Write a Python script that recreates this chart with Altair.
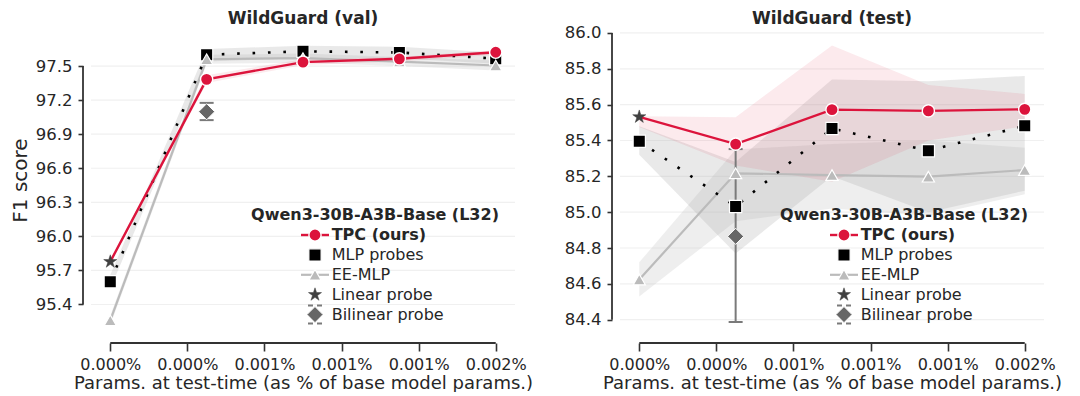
import math
import altair as alt
import pandas as pd

# ---------------- data ----------------
X_POS = [0.0, 0.000375, 0.00075, 0.001125, 0.0015]
X_TICKS = [0.0, 0.0003, 0.0006, 0.0009, 0.0012, 0.0015]
X_TICK_LABELS = ["0.000%", "0.000%", "0.001%", "0.001%", "0.001%", "0.002%"]
X_TITLE = "Params. at test-time (as % of base model params.)"
Y_TITLE = "F1 score"

LEGEND_TITLE = "Qwen3-30B-A3B-Base (L32)"
LEGEND_LABELS = ["TPC (ours)", "MLP probes", "EE-MLP", "Linear probe", "Bilinear probe"]

# WildGuard (val)
VAL_Y_TICKS = [95.4, 95.7, 96.0, 96.3, 96.6, 96.9, 97.2, 97.5]
VAL_Y_DOMAIN = [95.184, 97.809]
VAL_LINEAR = 95.777
VAL_TPC = [97.383, 97.535, 97.564, 97.622]
VAL_TPC_LO = [95.76, 97.35, 97.51, 97.54, 97.60]
VAL_TPC_HI = [95.79, 97.42, 97.56, 97.58, 97.64]
VAL_MLP = [95.60, 97.60, 97.63, 97.62, 97.565]
VAL_MLP_LO = [95.54, 97.54, 97.57, 97.57, 97.52]
VAL_MLP_HI = [95.66, 97.65, 97.68, 97.67, 97.62]
VAL_EE = [95.26, 97.56, 97.57, 97.54, 97.505]
VAL_EE_LO = [95.22, 97.52, 97.53, 97.50, 97.46]
VAL_EE_HI = [95.30, 97.60, 97.61, 97.58, 97.55]
VAL_BILINEAR = 97.098
VAL_BILINEAR_ERR = [97.024, 97.176]

# WildGuard (test)
TEST_Y_TICKS = [84.4, 84.6, 84.8, 85.0, 85.2, 85.4, 85.6, 85.8, 86.0]
TEST_Y_DOMAIN = [84.348, 86.011]
TEST_LINEAR = 85.532
TEST_TPC = [85.380, 85.572, 85.565, 85.574]
TEST_TPC_LO = [85.475, 85.26, 85.17, 85.40, 85.48]
TEST_TPC_HI = [85.535, 85.53, 85.93, 85.71, 85.66]
TEST_MLP = [85.396, 85.032, 85.467, 85.343, 85.482]
TEST_MLP_LO = [85.32, 84.77, 85.20, 85.00, 85.12]
TEST_MLP_HI = [85.48, 85.28, 85.74, 85.73, 85.76]
TEST_EE = [84.624, 85.217, 85.207, 85.198, 85.235]
TEST_EE_LO = [84.53, 84.95, 85.02, 84.98, 85.10]
TEST_EE_HI = [84.72, 85.35, 85.38, 85.40, 85.36]
TEST_BILINEAR = 84.865
TEST_BILINEAR_ERR = [84.387, 85.352]

# ---------------- style ----------------
FONT = "DejaVu Sans"
W, H = 424, 298
X_DOMAIN = [-0.000075, 0.001575]
RED = "#DC143C"
EE_GRAY = "#BBBBBB"
STAR_GRAY = "#404040"
DIAMOND_GRAY = "#666666"
ERR_GRAY = "#7A7A7A"
SPINE = "#333333"
TEXT = "#262626"
GRID = "#F0F0F0"

LEG_TITLE_X = 284
LEG_TITLE_Y = 184
LEG_ROW0 = 204
LEG_DY = 19.9
LEG_SYM_X = 224
LEG_LABEL_X = 240.7
LEG_HALF = 14


def star_path(n=5, inner=0.382):
    pts = []
    for k in range(2 * n):
        ang = math.radians(-90 + 180 * k / n)
        r = 1.0 if k % 2 == 0 else inner
        pts.append(f"{r * math.cos(ang):.4f},{r * math.sin(ang):.4f}")
    return "M" + " L".join(pts) + " Z"


STAR = star_path()


def one():
    return pd.DataFrame({"a": [0]})


def make_panel(title, y_title, y_ticks, y_domain, linear, tpc, tpc_lo, tpc_hi,
               mlp, mlp_lo, mlp_hi, ee, ee_lo, ee_hi, bil, bil_err):
    xs = alt.Scale(domain=X_DOMAIN, nice=False, zero=False)
    ys = alt.Scale(domain=y_domain, nice=False, zero=False)
    step = X_TICKS[1] - X_TICKS[0]
    label_expr = "[" + ",".join(f"'{l}'" for l in X_TICK_LABELS) + f"][round(datum.value / {step})]"
    x_axis = alt.Axis(values=X_TICKS, labelExpr=label_expr, offset=14, tickSize=8,
                      tickWidth=1.6, tickColor=SPINE, domain=False, grid=False,
                      labelFontSize=16, labelColor=TEXT, labelFont=FONT,
                      titleFontSize=18, titleFontWeight="normal", titleColor=TEXT,
                      titleFont=FONT, labelPadding=5, titlePadding=2,
                      labelFlush=False, labelOverlap=False)
    y_axis = alt.Axis(values=y_ticks, format=".1f", offset=8, tickSize=5, tickWidth=1.6,
                      tickColor=SPINE, domain=False, grid=False, labelFontSize=16.5,
                      labelColor=TEXT, labelFont=FONT, labelPadding=6,
                      titleFontSize=20, titleFontWeight="normal", titleColor=TEXT,
                      titleFont=FONT, titlePadding=5, labelOverlap=False)

    def X(f):
        return alt.X(f, scale=xs, axis=x_axis, title=X_TITLE)

    def Y(f):
        if y_title:
            return alt.Y(f, scale=ys, axis=y_axis, title=y_title)
        return alt.Y(f, scale=ys, axis=y_axis, title=None)

    df = pd.DataFrame({
        "x": X_POS,
        "tpc": [linear] + tpc, "tpc_lo": tpc_lo, "tpc_hi": tpc_hi,
        "mlp": mlp, "mlp_lo": mlp_lo, "mlp_hi": mlp_hi,
        "ee": ee, "ee_lo": ee_lo, "ee_hi": ee_hi,
    })
    circ = pd.DataFrame({"x": X_POS[1:], "y": tpc})
    star_df = pd.DataFrame({"x": [X_POS[0]], "y": [linear]})
    bil_df = pd.DataFrame({"x": [X_POS[1]], "y": [bil], "lo": [bil_err[0]], "hi": [bil_err[1]]})

    grid = alt.Chart(pd.DataFrame({"t": y_ticks})).mark_rule(
        color=GRID, strokeWidth=1.2).encode(y=Y("t:Q"), x=alt.value(0), x2=alt.value(W))

    base = alt.Chart(df)
    ee_band = base.mark_area(color="#C8C8C8", opacity=0.3).encode(
        x=X("x:Q"), y=Y("ee_lo:Q"), y2="ee_hi:Q")
    mlp_band = base.mark_area(color="#A8A8A8", opacity=0.25).encode(
        x=X("x:Q"), y=Y("mlp_lo:Q"), y2="mlp_hi:Q")
    tpc_band = base.mark_area(color=RED, opacity=0.09).encode(
        x=X("x:Q"), y=Y("tpc_lo:Q"), y2="tpc_hi:Q")

    ee_line = base.mark_line(color=EE_GRAY, strokeWidth=2.2).encode(x=X("x:Q"), y=Y("ee:Q"))
    mlp_line = base.mark_line(color="black", strokeWidth=2.6, strokeDash=[2.6, 12.8],
                              strokeCap="butt").encode(x=X("x:Q"), y=Y("mlp:Q"))
    tpc_line = base.mark_line(color=RED, strokeWidth=2.4).encode(x=X("x:Q"), y=Y("tpc:Q"))

    bb = alt.Chart(bil_df)
    err_rule = bb.mark_rule(color=ERR_GRAY, strokeWidth=2).encode(
        x=X("x:Q"), y=Y("lo:Q"), y2="hi:Q")
    cap_lo = bb.mark_tick(orient="horizontal", size=14, thickness=2, color=ERR_GRAY,
                          opacity=1).encode(x=X("x:Q"), y=Y("lo:Q"))
    cap_hi = bb.mark_tick(orient="horizontal", size=14, thickness=2, color=ERR_GRAY,
                          opacity=1).encode(x=X("x:Q"), y=Y("hi:Q"))

    squares = base.mark_point(shape="square", filled=True, fill="black", stroke="white",
                              strokeWidth=1.2, size=150, opacity=1).encode(
        x=X("x:Q"), y=Y("mlp:Q"))
    tris = base.mark_point(shape="triangle-up", filled=True, fill=EE_GRAY, stroke="white",
                           strokeWidth=1.2, size=150, opacity=1).encode(
        x=X("x:Q"), y=Y("ee:Q"))
    circles = alt.Chart(circ).mark_point(shape="circle", filled=True, fill=RED, stroke="white",
                                         strokeWidth=1.4, size=150, opacity=1).encode(
        x=X("x:Q"), y=Y("y:Q"))
    diamond = bb.mark_point(shape="diamond", filled=True, fill=DIAMOND_GRAY, stroke="white",
                            strokeWidth=1.0, size=260, opacity=1).encode(
        x=X("x:Q"), y=Y("y:Q"))
    star = alt.Chart(star_df).mark_point(shape=STAR, filled=True, fill=STAR_GRAY,
                                         stroke=STAR_GRAY, strokeWidth=0.5, size=190,
                                         opacity=1).encode(x=X("x:Q"), y=Y("y:Q"))

    yspine = alt.Chart(pd.DataFrame({"a": [y_ticks[0]], "b": [y_ticks[-1]]})).mark_rule(
        color=SPINE, strokeWidth=1.8).encode(x=alt.value(-8), y=Y("a:Q"), y2="b:Q")
    xspine = alt.Chart(pd.DataFrame({"a": [X_TICKS[0]], "b": [X_TICKS[-1]]})).mark_rule(
        color=SPINE, strokeWidth=1.8).encode(x=X("a:Q"), x2="b:Q", y=alt.value(H + 14))

    panel_title = alt.Chart(pd.DataFrame({"t": [title]})).mark_text(
        font=FONT, fontSize=17, fontWeight="bold", align="center", baseline="alphabetic",
        color=TEXT).encode(text="t:N", x=alt.value(W / 2), y=alt.value(-7))

    # ---- legend ----
    leg_rows = pd.DataFrame({"label": LEGEND_LABELS, "row": list(range(len(LEGEND_LABELS)))})
    leg_title = alt.Chart(pd.DataFrame({"t": [LEGEND_TITLE]})).mark_text(
        font=FONT, fontSize=16, fontWeight="bold", align="center", baseline="middle",
        color=TEXT).encode(text="t:N", x=alt.value(LEG_TITLE_X), y=alt.value(LEG_TITLE_Y))
    lab_base = alt.Chart(leg_rows).transform_calculate(
        py=f"{LEG_ROW0} + datum.row * {LEG_DY}")
    lab_bold = lab_base.transform_filter("datum.row == 0").mark_text(
        font=FONT, fontSize=16, fontWeight="bold", align="left", baseline="middle",
        color=TEXT).encode(text="label:N", x=alt.value(LEG_LABEL_X),
                           y=alt.Y("py:Q", scale=None))
    lab_norm = lab_base.transform_filter("datum.row > 0").mark_text(
        font=FONT, fontSize=16, align="left", baseline="middle",
        color=TEXT).encode(text="label:N", x=alt.value(LEG_LABEL_X),
                           y=alt.Y("py:Q", scale=None))

    def ry(i):
        return LEG_ROW0 + i * LEG_DY

    o = alt.Chart(one())
    leg_layers = [
        o.mark_rule(color=RED, strokeWidth=2.4).encode(
            x=alt.value(LEG_SYM_X - LEG_HALF), x2=alt.value(LEG_SYM_X + LEG_HALF), y=alt.value(ry(0))),
        o.mark_point(shape="circle", filled=True, fill=RED, stroke="white", strokeWidth=1.4,
                     size=150, opacity=1).encode(x=alt.value(LEG_SYM_X), y=alt.value(ry(0))),
        o.mark_point(shape="square", filled=True, fill="black", stroke="white", strokeWidth=1.2,
                     size=150, opacity=1).encode(x=alt.value(LEG_SYM_X), y=alt.value(ry(1))),
        o.mark_rule(color=EE_GRAY, strokeWidth=2.2).encode(
            x=alt.value(LEG_SYM_X - LEG_HALF), x2=alt.value(LEG_SYM_X + LEG_HALF), y=alt.value(ry(2))),
        o.mark_point(shape="triangle-up", filled=True, fill=EE_GRAY, stroke="white",
                     strokeWidth=1.2, size=150, opacity=1).encode(
            x=alt.value(LEG_SYM_X), y=alt.value(ry(2))),
        o.mark_point(shape=STAR, filled=True, fill=STAR_GRAY, stroke=STAR_GRAY, strokeWidth=0.5,
                     size=190, opacity=1).encode(x=alt.value(LEG_SYM_X), y=alt.value(ry(3))),
        o.mark_rule(color=ERR_GRAY, strokeWidth=2, strokeDash=[5, 4]).encode(
            x=alt.value(LEG_SYM_X - 7), x2=alt.value(LEG_SYM_X + 7), y=alt.value(ry(4) - 9)),
        o.mark_rule(color=ERR_GRAY, strokeWidth=2, strokeDash=[5, 4]).encode(
            x=alt.value(LEG_SYM_X - 7), x2=alt.value(LEG_SYM_X + 7), y=alt.value(ry(4) + 9)),
        o.mark_point(shape="diamond", filled=True, fill=DIAMOND_GRAY, stroke="white",
                     strokeWidth=1.0, size=260, opacity=1).encode(
            x=alt.value(LEG_SYM_X), y=alt.value(ry(4))),
    ]

    layers = [grid, ee_band, mlp_band, tpc_band, ee_line, mlp_line, tpc_line,
              err_rule, cap_lo, cap_hi, squares, tris, circles, diamond, star,
              yspine, xspine, panel_title, leg_title, lab_bold, lab_norm] + leg_layers
    return alt.layer(*layers).properties(width=W, height=H)


left = make_panel("WildGuard (val)", Y_TITLE, VAL_Y_TICKS, VAL_Y_DOMAIN, VAL_LINEAR,
                  VAL_TPC, VAL_TPC_LO, VAL_TPC_HI, VAL_MLP, VAL_MLP_LO, VAL_MLP_HI,
                  VAL_EE, VAL_EE_LO, VAL_EE_HI, VAL_BILINEAR, VAL_BILINEAR_ERR)
right = make_panel("WildGuard (test)", None, TEST_Y_TICKS, TEST_Y_DOMAIN, TEST_LINEAR,
                   TEST_TPC, TEST_TPC_LO, TEST_TPC_HI, TEST_MLP, TEST_MLP_LO, TEST_MLP_HI,
                   TEST_EE, TEST_EE_LO, TEST_EE_HI, TEST_BILINEAR, TEST_BILINEAR_ERR)

chart = alt.hconcat(left, right, spacing=105, bounds="flush").properties(
    padding={"left": 2, "top": 2, "right": 0, "bottom": 0}
).configure(font=FONT, background="white").configure_view(stroke=None)

chart.save("out.html", embed_options={"renderer": "svg", "actions": False})
